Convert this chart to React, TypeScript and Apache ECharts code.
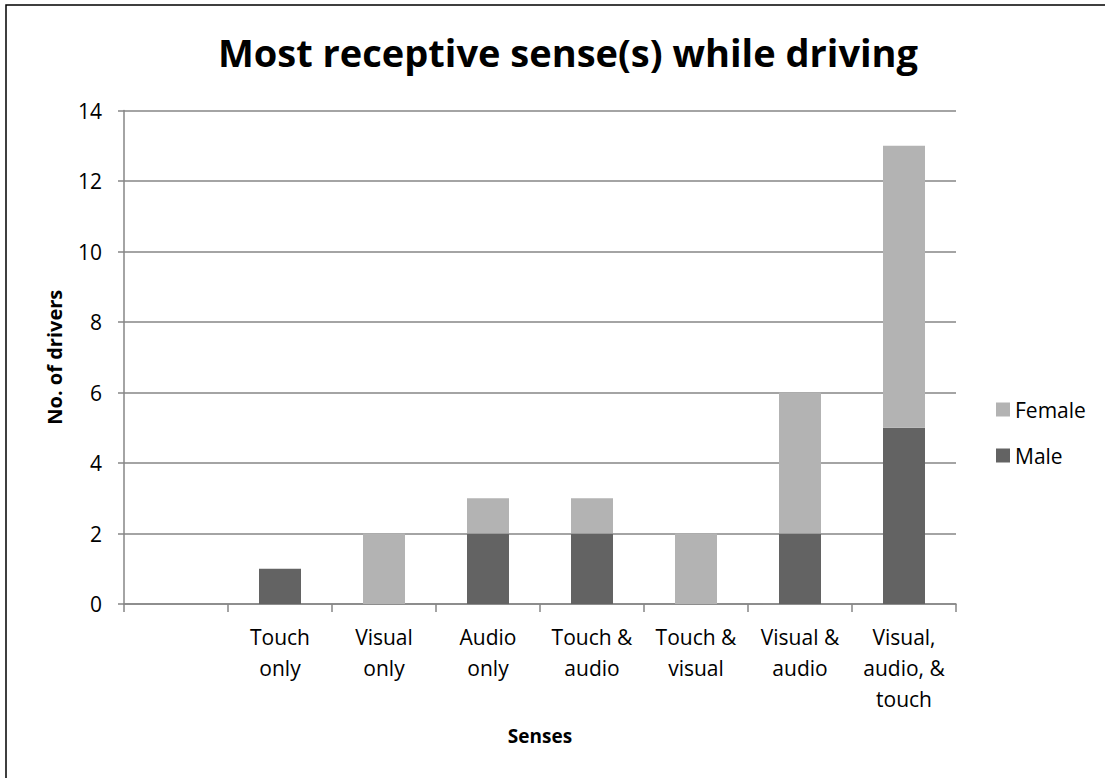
import React, { useEffect, useRef } from "react";
import * as echarts from "echarts";

const categories = [
  "",
  "Touch\nonly",
  "Visual\nonly",
  "Audio\nonly",
  "Touch &\naudio",
  "Touch &\nvisual",
  "Visual &\naudio",
  "Visual,\naudio, &\ntouch",
];
const maleValues = [0, 1, 0, 2, 2, 0, 2, 5];
const femaleValues = [0, 0, 2, 1, 1, 2, 4, 8];
const seriesNames = ["Male", "Female"];

const FONT = "'Open Sans', sans-serif";

export default function App() {
  const ref = useRef<HTMLDivElement>(null);
  useEffect(() => {
    if (!ref.current) return;
    const chart = echarts.init(ref.current, null, { renderer: "svg" });
    chart.setOption({
      animation: false,
      backgroundColor: "#ffffff",
      textStyle: { fontFamily: FONT },
      title: {
        text: "Most receptive sense(s) while driving",
        left: 563,
        textAlign: "center",
        top: 28,
        textStyle: { fontFamily: FONT, fontSize: 38, fontWeight: "bold", color: "#000" },
      },
      graphic: [
        {
          type: "rect",
          shape: { x: 6, y: 5, width: 1120, height: 800 },
          style: { fill: "none", stroke: "#000", lineWidth: 1.5 },
          silent: true,
        },
      ],
      legend: {
        orient: "vertical",
        left: 991,
        top: 394,
        itemWidth: 14,
        itemHeight: 14,
        itemGap: 25,
        icon: "rect",
        data: ["Female", "Male"],
        textStyle: { fontFamily: FONT, fontSize: 21, color: "#000" },
      },
      grid: { left: 124, right: 149, top: 110.5, bottom: 174 },
      xAxis: {
        type: "category",
        data: categories,
        name: "Senses",
        nameLocation: "middle",
        nameGap: 122,
        nameTextStyle: { fontFamily: FONT, fontSize: 19, fontWeight: "bold", color: "#000" },
        axisLine: { lineStyle: { color: "#868686", width: 1.5 } },
        axisTick: { show: true, interval: 0, length: 8, lineStyle: { color: "#868686", width: 1.5 } },
        axisLabel: {
          interval: 0,
          margin: 17,
          fontFamily: FONT,
          fontSize: 21,
          lineHeight: 31,
          color: "#000",
          verticalAlign: "top",
        },
      },
      yAxis: {
        type: "value",
        min: 0,
        max: 14,
        interval: 2,
        name: "No. of drivers",
        nameLocation: "middle",
        nameGap: 60,
        nameTextStyle: { fontFamily: FONT, fontSize: 20, fontWeight: "bold", color: "#000" },
        axisLine: { show: true, lineStyle: { color: "#868686", width: 1.5 } },
        axisTick: { show: true, length: 6, lineStyle: { color: "#868686", width: 1.5 } },
        splitLine: { show: true, lineStyle: { color: "#868686", width: 1.5 } },
        axisLabel: { fontFamily: FONT, fontSize: 21, color: "#000", margin: 22 },
      },
      series: [
        {
          name: seriesNames[0],
          type: "bar",
          stack: "total",
          barWidth: 42,
          data: maleValues,
          itemStyle: { color: "#636363" },
        },
        {
          name: seriesNames[1],
          type: "bar",
          stack: "total",
          barWidth: 42,
          data: femaleValues,
          itemStyle: { color: "#b3b3b3" },
        },
      ],
    });
    return () => chart.dispose();
  }, []);
  return (
    <div
      ref={ref}
      style={{ position: "absolute", left: 0, top: 0, width: 1105, height: 778 }}
    />
  );
}
